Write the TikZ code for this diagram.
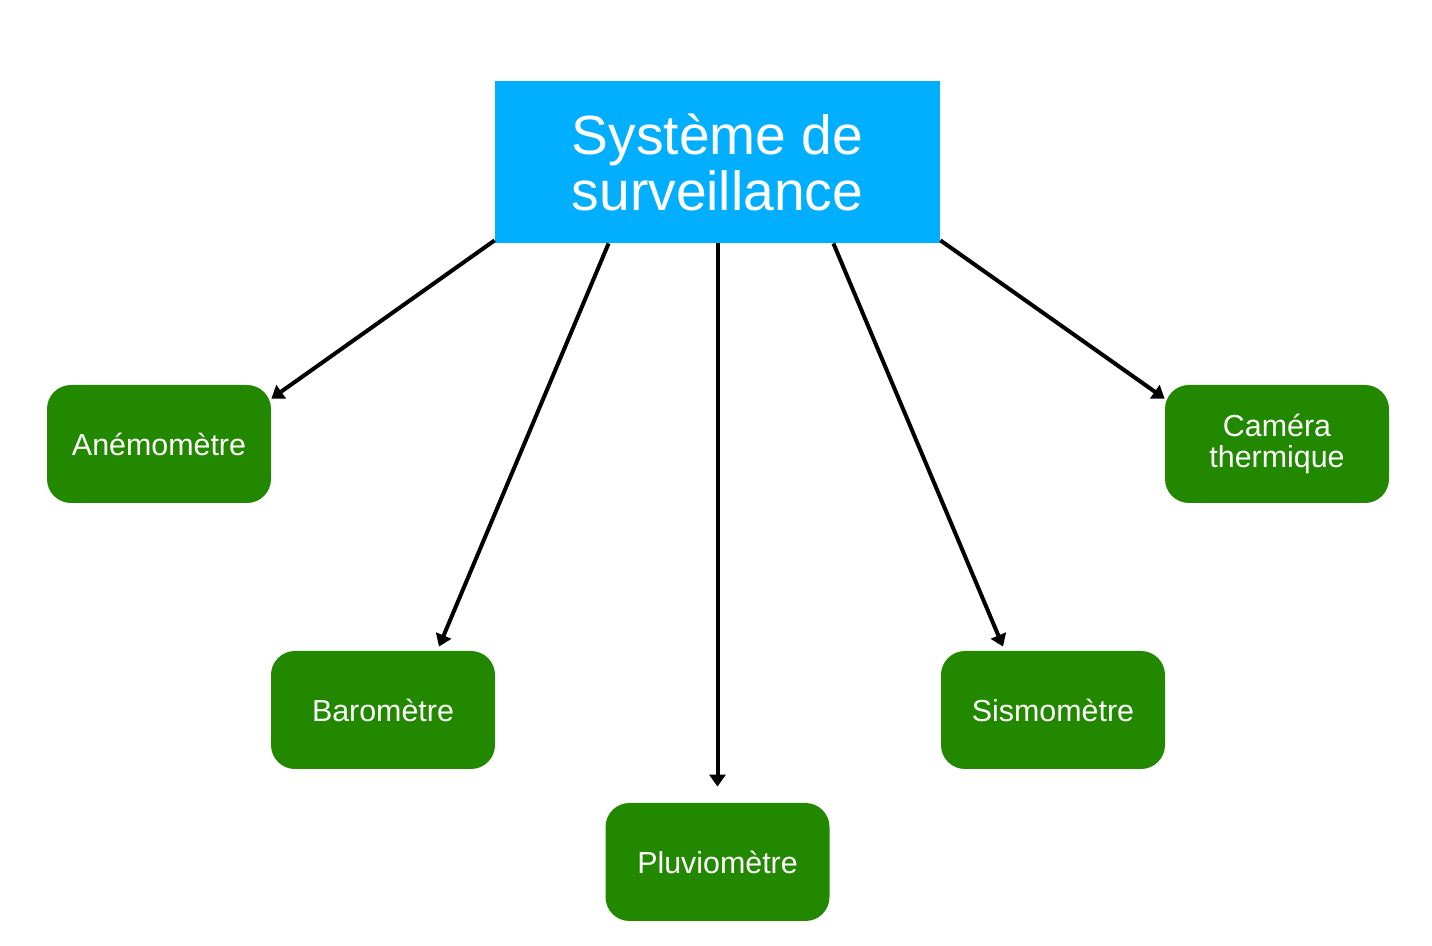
\documentclass[tikz,border=0pt]{standalone}
\usepackage{fontspec}
\setmainfont{Liberation Sans}
\usetikzlibrary{arrows.meta}
\definecolor{topblue}{RGB}{2,175,255}
\definecolor{leafgreen}{RGB}{34,136,0}
\begin{document}
\begin{tikzpicture}[x=0.5pt, y=-0.5pt,
  rootbox/.style={rectangle, fill=topblue, text=white, minimum width=222.5pt,
    minimum height=81pt, align=center, inner sep=0pt,
    font=\fontsize{27.6}{28}\selectfont},
  leafbox/.style={rectangle, rounded corners=12pt, fill=leafgreen, text=white,
    minimum width=112pt, minimum height=59pt, align=center, inner sep=0pt,
    font=\fontsize{15.2}{15.5}\selectfont},
  link/.style={line width=2pt, -{Triangle[length=6pt, width=8pt]}}]
  \useasboundingbox (0,0) rectangle (1432,946);

  % central system
  \node[rootbox] (root) at (717.5,162) {Système de\\surveillance};

  % instruments
  \node[leafbox] (ane)  at (159,444)  {Anémomètre};
  \node[leafbox] (baro) at (383,710)  {Baromètre};
  \node[leafbox] (pluv) at (717.5,862) {Pluviomètre};
  \node[leafbox] (sism) at (1053,710) {Sismomètre};
  \node[leafbox] (cam)  at (1277,444) {Caméra\\thermique};

  % links from the system to each instrument
  \draw[link] ([yshift=1.5pt]root.south west) -- ([yshift=-7pt]ane.north east);
  \draw[link] ([xshift=57pt]root.south west) -- ([xshift=28pt, yshift=2pt]baro.north);
  \draw[link] (root.south) -- ([yshift=8pt]pluv.north);
  \draw[link] ([xshift=-53.5pt]root.south east) -- ([xshift=-25pt, yshift=2pt]sism.north);
  \draw[link] ([yshift=1.5pt]root.south east) -- ([yshift=-7pt]cam.north west);
\end{tikzpicture}
\end{document}
